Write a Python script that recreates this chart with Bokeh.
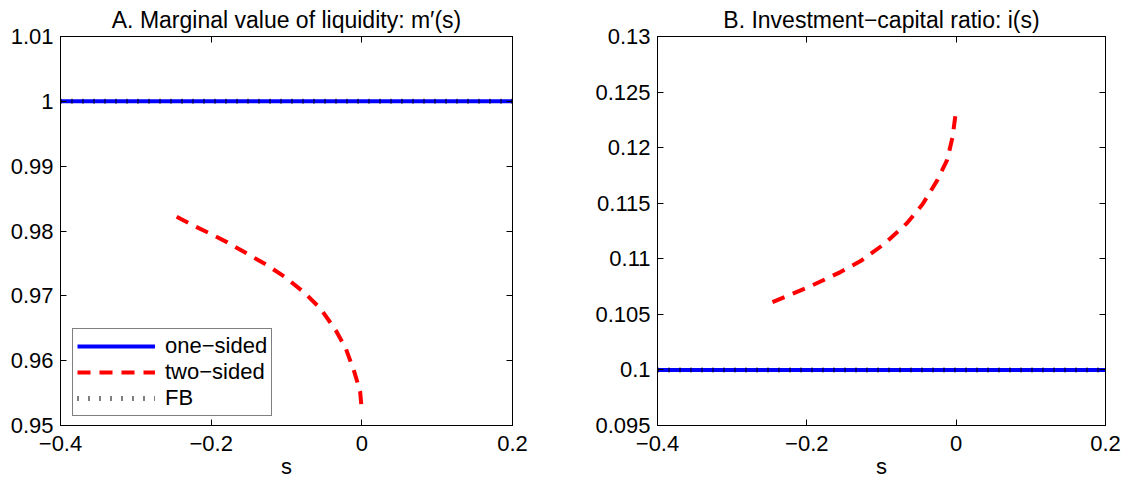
from bokeh.plotting import figure
from bokeh.layouts import row
from bokeh.models import LinearAxis, FixedTicker, Range1d, Legend, LegendItem
from bokeh.embed import file_html
from bokeh.resources import INLINE

# ---- data ----
s_full = [-0.4, 0.2]
m_one_sided = [1.0, 1.0]
m_fb = [1.0, 1.0]
s_two_m = [-0.2458, -0.2229, -0.2007, -0.1785, -0.1542, -0.1276, -0.1010, -0.0767,
           -0.0545, -0.0346, -0.0213, -0.0102, -0.0023, 0.0]
m_two_sided = [0.98221, 0.98079, 0.97957, 0.97825, 0.97663, 0.97485, 0.97282, 0.97053,
               0.96799, 0.96468, 0.96189, 0.95834, 0.95529, 0.95224]

i_one_sided = [0.1, 0.1]
i_fb = [0.1, 0.1]
s_two_i = [-0.246, -0.1995, -0.155, -0.128, -0.097, -0.066, -0.045, -0.025, -0.012, -0.005, 0.0]
i_two_sided = [0.1061, 0.1074, 0.1088, 0.1098, 0.1113, 0.1132, 0.1149, 0.1171, 0.1189, 0.1209, 0.1234]

x_ticks = [-0.4, -0.2, 0.0, 0.2]
x_labels = ["\u22120.4", "\u22120.2", "0", "0.2"]
yA_ticks = [0.95, 0.96, 0.97, 0.98, 0.99, 1.0, 1.01]
yA_labels = ["0.95", "0.96", "0.97", "0.98", "0.99", "1", "1.01"]
yB_ticks = [0.095, 0.1, 0.105, 0.11, 0.115, 0.12, 0.125, 0.13]
yB_labels = ["0.095", "0.1", "0.105", "0.11", "0.115", "0.12", "0.125", "0.13"]

FONT = "Liberation Sans"
TICK_FS = "22px"


def style_axis(ax, ticks, labels=None, show_labels=True, standoff=7):
    ax.ticker = FixedTicker(ticks=ticks)
    if labels is not None:
        ax.major_label_overrides = {t: l for t, l in zip(ticks, labels)}
    ax.major_tick_in = 6
    ax.major_tick_out = 0
    ax.minor_tick_line_color = None
    ax.axis_line_color = "black"
    ax.major_tick_line_color = "black"
    ax.major_label_text_font = FONT
    ax.major_label_text_color = "black"
    if show_labels:
        ax.major_label_text_font_size = TICK_FS
        ax.major_label_standoff = standoff
    else:
        ax.major_label_text_font_size = "0px"
        ax.major_label_standoff = 0


def make_fig(title, yr, yticks, ylabels, w, bl, br):
    p = figure(width=w, height=481,
               x_range=Range1d(-0.4, 0.2), y_range=Range1d(*yr),
               output_backend="svg", toolbar_location=None,
               min_border_left=bl, min_border_right=br,
               min_border_top=35, min_border_bottom=53)
    p.title.text = title
    p.title.align = "center"
    p.title.text_font = FONT
    p.title.text_font_size = "23px"
    p.title.text_font_style = "normal"
    p.title.text_color = "black"
    p.title.standoff = 8
    p.xgrid.visible = False
    p.ygrid.visible = False
    p.outline_line_color = "black"
    p.outline_line_width = 1
    style_axis(p.xaxis[0], x_ticks, x_labels, standoff=10)
    style_axis(p.yaxis[0], yticks, ylabels, standoff=7)
    p.xaxis[0].axis_label = "s"
    p.xaxis[0].axis_label_text_font = FONT
    p.xaxis[0].axis_label_text_font_size = "22px"
    p.xaxis[0].axis_label_text_font_style = "normal"
    p.xaxis[0].axis_label_text_color = "black"
    p.xaxis[0].axis_label_standoff = 0
    top = LinearAxis()
    style_axis(top, x_ticks, show_labels=False)
    p.add_layout(top, "above")
    right = LinearAxis()
    style_axis(right, yticks, show_labels=False)
    p.add_layout(right, "right")
    return p


pA = make_fig("A. Marginal value of liquidity: m\u2032(s)", (0.95, 1.01), yA_ticks, yA_labels, 588, 60, 76)
pB = make_fig("B. Investment\u2212capital ratio: i(s)", (0.095, 0.13), yB_ticks, yB_labels, 545, 69, 28)

for p, s2, y2, y1, yfb in [(pA, s_two_m, m_two_sided, m_one_sided, m_fb),
                           (pB, s_two_i, i_two_sided, i_one_sided, i_fb)]:
    r1 = p.line(s_full, y1, line_color="#0000ff", line_width=4)
    rfb = p.line(s_full, yfb, line_color="black", line_width=5, line_dash="1 10")
    r2 = p.line(s2, y2, line_color="#ff0000", line_width=4, line_dash="13 9")
    if p is pA:
        leg = Legend(items=[LegendItem(label="one\u2212sided", renderers=[r1]),
                            LegendItem(label="two\u2212sided", renderers=[r2]),
                            LegendItem(label="FB", renderers=[rfb])],
                     location=(12, 9), margin=0, padding=4, spacing=0,
                     label_height=24, glyph_height=24, glyph_width=78,
                     label_standoff=10,
                     label_text_font=FONT, label_text_font_size="22px",
                     label_text_color="black",
                     border_line_color="black", border_line_width=1,
                     background_fill_color="white", background_fill_alpha=1.0)
        p.add_layout(leg, "center")

layout = row(pA, pB)
open("out.html", "w").write(file_html(layout, INLINE))
